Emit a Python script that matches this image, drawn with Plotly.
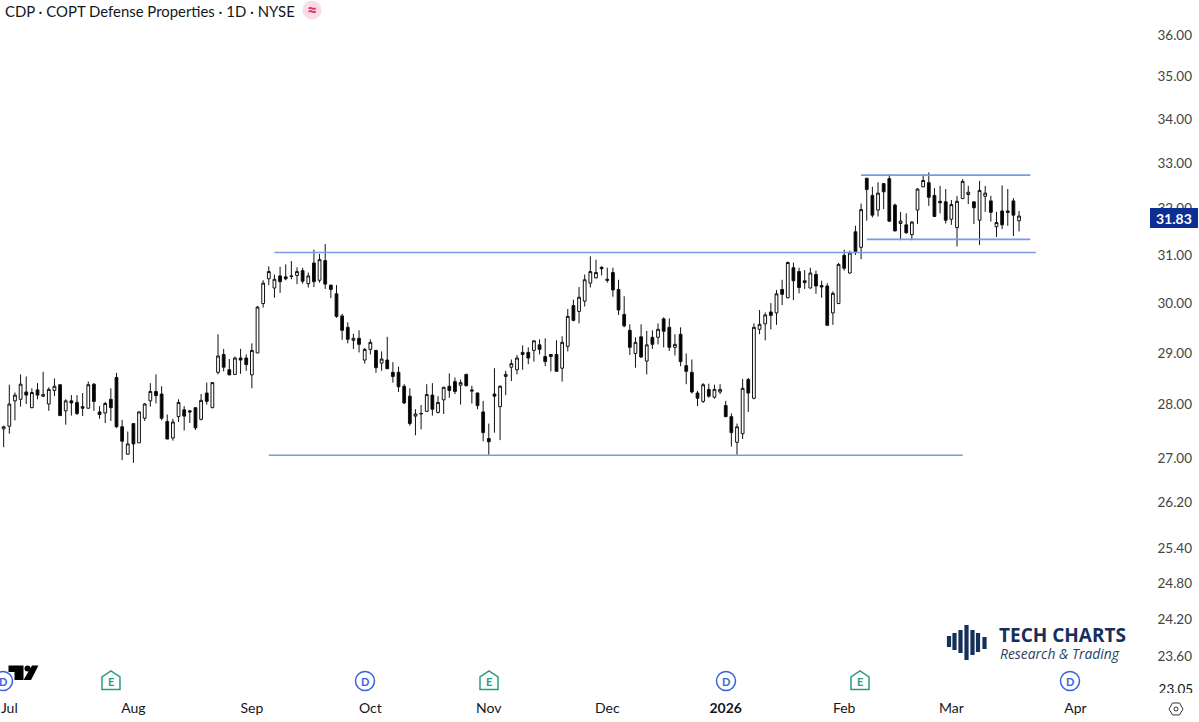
import plotly.graph_objects as go

W, H = 1199, 722
FONT = "Lato"

opens = [27.54,27.59,28.07,28.10,28.24,27.94,28.28,28.16,28.01,28.27,
28.38,27.88,28.07,28.04,27.96,27.93,28.39,27.86,27.84,28.10,
28.52,27.58,27.07,27.64,27.28,27.74,28.07,28.25,28.20,27.68,
27.37,27.77,27.90,27.88,27.94,27.72,28.22,27.94,28.62,28.97,
28.67,28.58,28.90,28.90,28.57,29.00,29.99,30.50,30.31,30.56,
30.54,30.56,30.57,30.67,30.40,30.83,30.47,30.88,30.37,30.19,
29.74,29.51,29.25,29.29,28.86,29.07,29.05,28.80,28.86,28.62,
28.62,28.35,28.16,27.78,27.82,27.87,28.18,27.85,28.09,28.35,
28.44,28.37,28.58,28.28,28.22,27.86,27.36,28.20,27.96,28.54,
28.72,28.67,29.01,29.01,29.05,29.16,28.93,28.97,28.97,28.70,
29.13,29.95,29.83,30.04,30.41,30.52,30.74,30.49,30.63,30.28,
29.77,29.45,28.99,29.32,28.84,29.31,29.31,29.68,29.51,29.11,
29.37,28.75,28.62,28.22,28.06,28.29,28.14,28.24,27.98,27.77,
27.29,27.45,28.48,28.12,29.47,29.58,29.82,29.80,30.28,30.11,
30.73,30.65,30.46,30.31,30.59,30.36,30.35,29.80,29.99,30.99,
30.62,31.49,31.16,32.66,32.28,31.96,32.54,32.65,32.07,31.67,
31.64,31.43,31.96,32.47,32.56,32.28,32.15,32.14,31.76,31.58,
32.21,32.30,32.14,31.74,32.26,32.16,31.60,31.94,31.94,32.16,
31.73]
highs = [27.60,28.38,28.23,28.58,28.54,28.31,28.41,28.63,28.33,28.50,
28.38,28.10,28.18,28.18,28.22,28.44,28.41,27.97,28.05,28.31,
28.61,27.71,27.49,27.64,27.87,28.03,28.41,28.58,28.35,27.81,
27.73,28.10,27.97,27.89,27.94,28.20,28.42,28.43,29.37,29.08,
28.88,28.93,29.08,28.97,29.19,29.94,30.47,30.76,30.59,30.75,
30.80,30.87,30.74,30.73,30.63,31.11,31.02,31.23,30.37,30.37,
29.78,29.61,29.38,29.45,29.10,29.27,29.06,29.03,29.32,28.82,
28.73,28.39,28.31,27.91,27.99,28.39,28.41,28.16,28.34,28.60,
28.52,28.48,28.59,28.36,28.23,28.07,27.64,28.70,28.37,28.65,
28.87,28.96,29.15,29.11,29.25,29.27,29.29,28.97,29.25,29.33,
29.88,30.07,30.33,30.59,30.97,30.90,30.76,30.73,30.73,30.48,
30.14,29.57,29.31,29.57,29.44,29.45,29.59,29.71,29.69,29.37,
29.51,28.99,28.87,28.26,28.41,28.40,28.38,28.39,28.07,27.83,
27.64,28.49,28.51,29.59,29.86,29.81,30.00,30.27,30.48,30.86,
30.84,30.73,30.68,30.73,30.67,30.46,30.41,30.24,30.83,31.11,
31.09,31.62,32.10,32.66,32.47,32.57,32.55,32.75,32.10,31.92,
31.89,31.72,32.44,32.75,32.79,32.44,32.49,32.42,32.18,32.27,
32.64,32.49,32.14,32.60,32.49,32.27,31.92,32.50,32.42,32.22,
31.94]
lows = [27.20,27.45,27.70,27.96,28.01,27.93,28.10,28.14,27.88,28.16,
27.79,27.62,27.79,27.80,27.78,27.92,27.88,27.73,27.65,27.69,
27.56,26.96,27.06,26.91,27.28,27.69,27.96,28.02,27.70,27.35,
27.32,27.67,27.51,27.65,27.52,27.70,28.00,27.93,28.58,28.64,
28.57,28.57,28.59,28.65,28.31,29.00,29.91,30.37,30.11,30.21,
30.47,30.49,30.39,30.40,30.32,30.33,30.42,30.29,30.10,29.70,
29.26,29.19,29.08,29.01,28.79,28.97,28.61,28.65,28.69,28.42,
28.24,28.01,27.60,27.42,27.53,27.86,27.79,27.83,27.82,28.13,
28.20,28.00,28.35,28.02,27.91,27.31,27.06,27.47,27.33,28.18,
28.45,28.58,28.67,28.78,28.83,28.97,28.74,28.64,28.64,28.44,
29.03,29.63,29.59,29.93,30.32,30.51,30.57,30.42,30.13,29.76,
29.51,28.96,28.71,28.90,28.58,29.08,29.17,29.11,29.04,28.95,
28.74,28.39,28.21,27.97,28.03,28.13,28.11,28.20,27.76,27.21,
27.06,27.35,27.86,28.10,29.37,29.25,29.47,29.56,29.96,30.10,
30.06,30.20,30.29,30.30,30.19,30.11,29.55,29.56,29.99,30.67,
30.61,31.00,30.91,31.73,31.80,31.82,31.98,31.70,31.50,31.31,
31.45,31.31,31.66,32.46,32.05,31.81,31.89,31.67,31.64,31.18,
32.21,32.09,31.66,31.21,31.92,31.71,31.38,31.55,31.62,31.40,
31.50]
closes = [27.58,28.01,28.18,28.39,28.18,28.23,28.18,28.19,28.29,28.35,
27.79,28.07,28.03,27.83,27.93,28.38,28.06,27.81,28.02,27.94,
27.58,27.31,27.26,27.26,27.86,28.01,28.25,28.17,27.74,27.35,
27.67,28.04,27.78,27.86,27.56,28.08,28.06,28.42,28.94,28.72,
28.57,28.90,28.86,28.77,29.05,29.92,30.41,30.65,30.49,30.44,
30.50,30.55,30.65,30.45,30.56,30.44,30.90,30.39,30.28,29.73,
29.45,29.27,29.29,29.17,29.07,29.21,28.71,28.88,28.69,28.54,
28.34,28.03,27.64,27.82,27.83,28.19,27.91,28.04,28.33,28.27,
28.25,28.42,28.36,28.26,27.98,27.47,27.30,28.16,28.35,28.58,
28.79,28.90,28.97,28.90,29.24,29.07,28.83,28.93,28.64,29.21,
29.73,29.65,30.12,30.48,30.65,30.63,30.71,30.47,30.27,29.86,
29.54,29.11,29.21,28.92,29.16,29.17,29.47,29.43,29.11,29.17,
28.83,28.64,28.24,28.12,28.38,28.16,28.29,28.29,27.77,27.47,
27.58,28.31,28.22,29.51,29.57,29.76,29.75,30.19,30.18,30.84,
30.46,30.32,30.42,30.62,30.35,30.33,29.55,30.20,30.80,30.72,
31.04,31.07,31.97,32.41,31.85,32.33,32.36,31.72,31.51,31.72,
31.47,31.70,32.42,32.61,32.24,31.82,32.12,31.74,32.08,32.15,
32.59,32.35,32.01,32.39,32.33,31.91,31.69,31.64,31.91,31.85,
31.83]

month_positions = [1, 23, 44, 65, 86, 107, 128, 149, 168, 190]
month_labels = ["Jul", "Aug", "Sep", "Oct", "Nov", "Dec", "<b>2026</b>", "Feb", "Mar", "Apr"]
price_ticks = [36, 35, 34, 33, 32, 31, 30, 29, 28, 27, 26.2, 25.4, 24.8, 24.2, 23.6]
price_labels = ["36.00","35.00","34.00","33.00","32.00","31.00","30.00","29.00","28.00","27.00",
                "26.20","25.40","24.80","24.20","23.60"]
clipped_tick_value, clipped_tick_label = 23.05, "23.05"

neck_x, neck_y = [48, 183], [31.05, 31.05]
base_x, base_y = [47, 170], [27.05, 27.05]
box_top_x, box_top_y = [152, 182], [32.73, 32.73]
box_bot_x, box_bot_y = [153, 182], [31.33, 31.33]
last_price = "31.83"

idx = list(range(len(closes)))

fig = go.Figure()
fig.add_trace(go.Candlestick(
    x=idx, open=opens, high=highs, low=lows, close=closes,
    increasing=dict(line=dict(color="#111111", width=1), fillcolor="#ffffff"),
    decreasing=dict(line=dict(color="#111111", width=1), fillcolor="#000000"),
    whiskerwidth=0, showlegend=False, hoverinfo="x+y",
))
LINE = "#789be4"
for lx, ly in [(neck_x, neck_y), (base_x, base_y), (box_top_x, box_top_y), (box_bot_x, box_bot_y)]:
    fig.add_trace(go.Scatter(x=lx, y=ly, mode="lines", line=dict(color=LINE, width=1.7),
                             showlegend=False, hoverinfo="skip"))
# lowest scale label: cut by the plot's bottom edge, as in the reference
fig.add_trace(go.Scatter(x=[210.85], y=[clipped_tick_value], mode="text", text=[clipped_tick_label],
                         textposition="middle left", cliponaxis=True,
                         textfont=dict(family=FONT, size=13.5, color="#131722"),
                         showlegend=False, hoverinfo="skip"))

def X(p): return p / W
def Y(p): return 1 - p / H

shapes, annos = [], []
def rect(x0, y0, x1, y1, fill, layer="above"):
    shapes.append(dict(type="rect", xref="paper", yref="paper", x0=X(x0), x1=X(x1), y0=Y(y1), y1=Y(y0),
                       fillcolor=fill, line_width=0, layer=layer))
def circle(cx, cy, r, fill="rgba(0,0,0,0)", line=None, lw=1.5):
    shapes.append(dict(type="circle", xref="paper", yref="paper", x0=X(cx-r), x1=X(cx+r), y0=Y(cy+r), y1=Y(cy-r),
                       fillcolor=fill, line=dict(color=line or fill, width=lw if line else 0), layer="above"))
def poly(points, fill="rgba(0,0,0,0)", line=None, lw=1.5):
    path = "M " + " L ".join(f"{X(a):.5f},{Y(b):.5f}" for a, b in points) + " Z"
    shapes.append(dict(type="path", xref="paper", yref="paper", path=path, fillcolor=fill,
                       line=dict(color=line or fill, width=lw if line else 0), layer="above"))
def bar(x, y0, y1, w, color):
    shapes.append(dict(type="line", xref="paper", yref="paper", x0=X(x), x1=X(x), y0=Y(y0), y1=Y(y1),
                       line=dict(color=color, width=w), layer="above"))
def text(x, y, s, size, color="#131722", anchor="left", family=FONT):
    annos.append(dict(xref="paper", yref="paper", x=X(x), y=Y(y), text=s, showarrow=False, xanchor=anchor,
                      yanchor="middle", font=dict(family=family, size=size, color=color),
                      borderpad=0, borderwidth=0))

# title and badge
text(5, 11, "CDP · COPT Defense Properties · 1D · NYSE", 14.9)
circle(312, 10, 9.5, fill="#fbdbe6")
text(312, 10, "<b>≈</b>", 18, color="#d8336a", anchor="center")

# top scale label, cut by the page edge
text(1192, -6, "37.00", 13.5, anchor="right")

# last price badge
rect(1150, 208, 1198, 228, "#0c2f94")
text(1192, 218, "<b>" + last_price + "</b>", 14, color="#ffffff", anchor="right")

# events
BLUE, GREEN = "#3a62d8", "#2a9d80"
for cx in [3, 365, 726, 1070]:
    circle(cx, 681, 9.5, line=BLUE)
    text(cx, 681, "<b>D</b>", 11, color=BLUE, anchor="center")
for cx in [111, 489, 860]:
    poly([(cx-9, 689.5), (cx+9, 689.5), (cx+9, 677), (cx, 671), (cx-9, 677)], line=GREEN)
    text(cx, 681, "<b>E</b>", 11, color=GREEN, anchor="center")

# TradingView mark
poly([(8.5, 665.5), (23.5, 665.5), (23.5, 680), (14.5, 680), (14.5, 672), (8.5, 672)], fill="#000000")
circle(27.5, 668.5, 3, fill="#000000")
poly([(32, 665.5), (38.5, 665.5), (31, 680), (23.5, 680)], fill="#000000")

# logo
NAVY = "#14305a"
for bx, t, b in [(949, 636, 647), (954.5, 633, 650), (960.5, 630, 653), (966.5, 625, 660),
                 (972.5, 630, 655), (978, 633, 652), (984.5, 637, 649)]:
    bar(bx, t, b, 4.2, NAVY)
text(999, 635, "<b>TECH CHARTS</b>", 19, color=NAVY, family="Open Sans")
text(1000, 653, "<i>Research &amp; Trading</i>", 13.9, color="#2a4266", family="Open Sans")

# scale settings icon
gx, gy = 1176, 709
poly([(gx-7, gy), (gx-3.5, gy-6), (gx+3.5, gy-6), (gx+7, gy), (gx+3.5, gy+6), (gx-3.5, gy+6)],
     line="#333333", lw=1)
circle(gx, gy, 2, line="#333333", lw=1)

fig.update_layout(
    width=W, height=H, margin=dict(l=0, r=0, t=0, b=0),
    paper_bgcolor="#ffffff", plot_bgcolor="#ffffff",
    font=dict(family=FONT, size=14, color="#131722"),
    showlegend=False, shapes=shapes, annotations=annos,
    xaxis=dict(domain=[0, 1], range=[-0.65, 211.9], rangeslider=dict(visible=False),
               tickmode="array", tickvals=month_positions, ticktext=month_labels,
               showgrid=False, zeroline=False, showline=False, ticks="", automargin=False,
               ticklabelstandoff=5, tickfont=dict(family=FONT, size=14)),
    yaxis=dict(domain=[29/H, 1], type="log", range=[1.36194, 1.56666], side="right",
               tickmode="array", tickvals=price_ticks, ticktext=price_labels,
               ticklabelposition="inside", ticklabelstandoff=4,
               showgrid=False, zeroline=False, showline=False, ticks="", automargin=False,
               tickfont=dict(family=FONT, size=13.5)),
)

fig.write_html("out.html", config=dict(displayModeBar=False),
               post_script="document.body.style.margin='0';document.body.style.overflow='hidden';")
